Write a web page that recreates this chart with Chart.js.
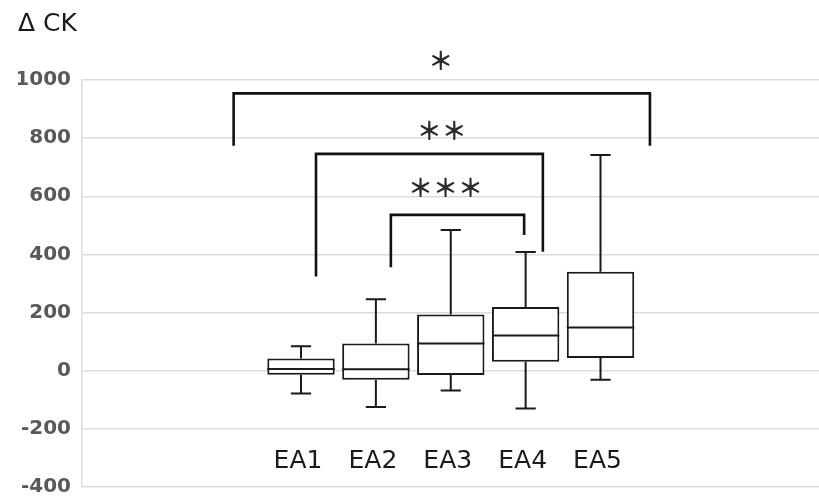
<!DOCTYPE html>
<html>
<head>
<meta charset="utf-8">
<script src="https://cdn.jsdelivr.net/npm/chart.js@4.4.1/dist/chart.umd.min.js"></script>
<style>
  html, body { margin: 0; padding: 0; background: #fff; }
  #wrap { width: 819px; height: 497px; }
</style>
</head>
<body>
<div id="wrap"><canvas id="chart"></canvas></div>
<script>
const groups = ['EA1', 'EA2', 'EA3', 'EA4', 'EA5'];
const whiskerLow = [-78, -125, -68, -130, -31];
const q1 = [-14, -31, -15, 31, 44];
const median = [6, 5, 94, 121, 149];
const q3 = [42, 94, 193, 219, 340];
const whiskerHigh = [84, 246, 484, 408, 742];
const yTicks = [-400, -200, 0, 200, 400, 600, 800, 1000];

// significance brackets (group position units / ΔCK units)
const bracketFrom = [0.1, 1.2, 2.2];
const bracketTo = [5.66, 4.23, 3.98];
const bracketTop = [954, 746, 536];
const bracketLeftEnd = [774, 324, 356];
const bracketRightEnd = [774, 409, 467];
const bracketMarks = ['＊', '＊＊', '＊＊＊'];
const bracketMarkX = [2.865, 2.88, 2.93];
const bracketMarkY = [1066, 825, 630];

const labelLevel = -312;

const boxExtras = {
  id: 'boxExtras',
  afterDatasetsDraw(chart) {
    const { ctx, scales: { x, y } } = chart;
    const bars = chart.getDatasetMeta(0).data;
    ctx.save();
    ctx.strokeStyle = '#1a1a1a';
    ctx.lineWidth = 2;
    ctx.lineCap = 'butt';
    groups.forEach((g, i) => {
      const bar = bars[i];
      const cx = x.getPixelForValue(i + 1);
      const capL = x.getPixelForValue(i + 1 - 0.135);
      const capR = x.getPixelForValue(i + 1 + 0.135);
      ctx.beginPath();
      // upper whisker
      ctx.moveTo(cx, y.getPixelForValue(q3[i]));
      ctx.lineTo(cx, y.getPixelForValue(whiskerHigh[i]));
      ctx.moveTo(capL, y.getPixelForValue(whiskerHigh[i]));
      ctx.lineTo(capR, y.getPixelForValue(whiskerHigh[i]));
      // lower whisker
      ctx.moveTo(cx, y.getPixelForValue(q1[i]));
      ctx.lineTo(cx, y.getPixelForValue(whiskerLow[i]));
      ctx.moveTo(capL, y.getPixelForValue(whiskerLow[i]));
      ctx.lineTo(capR, y.getPixelForValue(whiskerLow[i]));
      // median
      ctx.moveTo(bar.x - bar.width / 2, y.getPixelForValue(median[i]));
      ctx.lineTo(bar.x + bar.width / 2, y.getPixelForValue(median[i]));
      ctx.stroke();
    });

    // group labels inside the plot
    ctx.fillStyle = '#1a1a1a';
    ctx.font = '25px "DejaVu Sans"';
    ctx.textAlign = 'center';
    ctx.textBaseline = 'middle';
    groups.forEach((g, i) => {
      ctx.fillText(g, x.getPixelForValue(i + 1) - 3, y.getPixelForValue(labelLevel));
    });

    // brackets
    ctx.lineWidth = 2.6;
    ctx.strokeStyle = '#111';
    ctx.lineJoin = 'miter';
    bracketFrom.forEach((from, k) => {
      ctx.beginPath();
      ctx.moveTo(x.getPixelForValue(from), y.getPixelForValue(bracketLeftEnd[k]));
      ctx.lineTo(x.getPixelForValue(from), y.getPixelForValue(bracketTop[k]));
      ctx.lineTo(x.getPixelForValue(bracketTo[k]), y.getPixelForValue(bracketTop[k]));
      ctx.lineTo(x.getPixelForValue(bracketTo[k]), y.getPixelForValue(bracketRightEnd[k]));
      ctx.stroke();
    });
    ctx.fillStyle = '#2b2b2b';
    ctx.font = 'bold 25px "Noto Sans CJK JP"';
    bracketMarks.forEach((m, k) => {
      ctx.fillText(m, x.getPixelForValue(bracketMarkX[k]), y.getPixelForValue(bracketMarkY[k]));
    });
    ctx.restore();
  }
};

new Chart(document.getElementById('chart'), {
  type: 'bar',
  data: {
    datasets: [{
      data: groups.map((g, i) => ({ x: i + 1, y: [q1[i], q3[i]] })),
      backgroundColor: '#fff',
      borderColor: '#1a1a1a',
      borderWidth: 2,
      borderSkipped: false,
      barPercentage: 0.9,
      categoryPercentage: 1
    }]
  },
  options: {
    responsive: true,
    maintainAspectRatio: false,
    animation: false,
    layout: { padding: { left: 18, right: 0, top: 0, bottom: 0 } },
    plugins: {
      legend: { display: false },
      tooltip: { enabled: false },
      title: {
        display: true,
        text: 'Δ CK',
        align: 'start',
        color: '#1a1a1a',
        font: { family: 'DejaVu Sans', size: 25, weight: 'normal', lineHeight: 1.2 },
        padding: { top: 9, bottom: 41 }
      }
    },
    scales: {
      x: {
        type: 'linear',
        display: false,
        offset: false,
        min: -1.925,
        max: 7.918,
        afterBuildTicks(scale) {
          scale.ticks = groups.map((g, i) => ({ value: i + 1 }));
        }
      },
      y: {
        min: -400,
        max: 1000,
        afterFit(scale) {
          scale.width = 64;
          scale.paddingTop = 0;
          scale.paddingBottom = 10;
        },
        afterBuildTicks(scale) {
          scale.ticks = yTicks.map(v => ({ value: v }));
        },
        ticks: {
          padding: 11,
          color: '#595959',
          font: { family: 'DejaVu Sans', size: 20, weight: 'bold', lineHeight: 1.0 },
          callback: v => String(v)
        },
        grid: { color: '#dcdcdc', lineWidth: 1.5, drawTicks: false },
        border: { color: '#dcdcdc', width: 1.5 }
      }
    }
  },
  plugins: [boxExtras]
});
</script>
</body>
</html>
